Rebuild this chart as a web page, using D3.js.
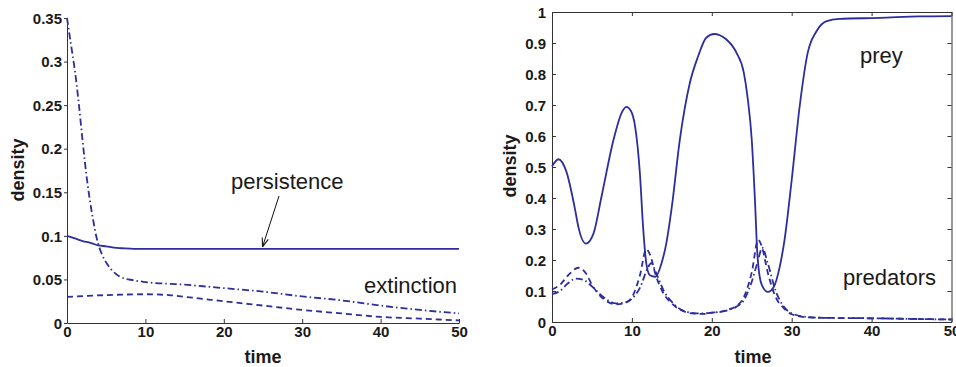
<!DOCTYPE html>
<html>
<head>
<meta charset="utf-8">
<script src="https://cdn.jsdelivr.net/npm/d3@7"></script>
<style>
  body { margin: 0; background: #fff; }
  svg { display: block; font-family: "Liberation Sans", Arial, Helvetica, sans-serif; }
  .tick text { font-weight: bold; font-size: 15px; fill: #1a1a1a; }
  .axlabel { font-weight: bold; font-size: 18px; fill: #1a1a1a; }
  .note { font-size: 22px; fill: #1a1a1a; }
</style>
</head>
<body>
<svg id="chart" width="956" height="367"></svg>
<script>
// left panel: persistence vs extinction
var leftTicksX = [0, 10, 20, 30, 40, 50];
var leftTicksY = [0, 0.05, 0.1, 0.15, 0.2, 0.25, 0.3, 0.35];

var persistT = [0, 1, 2, 3, 4, 5, 6, 7, 8.5, 10, 20, 30, 40, 50];
var persistY = [0.1, 0.097, 0.094, 0.092, 0.089, 0.088, 0.0865, 0.0858, 0.085, 0.085, 0.085, 0.085, 0.085, 0.085];

var extDashDotT = [0, 0.5, 1.0, 1.5, 2.0, 2.5, 2.8, 3.3, 3.8, 4.4, 5.1, 6, 6.8, 8.5, 10, 15, 20, 25, 30, 35, 40, 45, 50];
var extDashDotY = [0.35, 0.32, 0.29, 0.252, 0.208, 0.168, 0.148, 0.12, 0.097, 0.08, 0.068, 0.058, 0.053, 0.049, 0.047, 0.044, 0.04, 0.036, 0.0305, 0.026, 0.02, 0.015, 0.011];

var extDashT = [0, 5, 10, 13, 16, 20, 25, 30, 35, 40, 45, 50];
var extDashY = [0.03, 0.032, 0.033, 0.032, 0.029, 0.025, 0.02, 0.015, 0.011, 0.007, 0.005, 0.003];

// right panel: prey and predators
var rightTicksX = [0, 10, 20, 30, 40, 50];
var rightTicksY = [0, 0.1, 0.2, 0.3, 0.4, 0.5, 0.6, 0.7, 0.8, 0.9, 1];

var preyT = [0, 0.8, 1.8, 2.9, 3.3, 4.25, 5.2, 6.2, 7.7, 8.7, 9.3, 9.9, 10.4, 11, 11.4, 11.8, 12.25, 12.95, 13.7, 14.3, 15, 16, 17.25, 18.3, 19.3, 20.3, 21, 21.8, 23.1, 24, 24.5, 25, 25.4, 25.7, 26.2, 27, 27.75, 28.5, 29.1, 30, 31, 32, 33.1, 34.3, 36, 41, 46, 50];
var preyY = [0.502, 0.525, 0.485, 0.361, 0.307, 0.253, 0.286, 0.405, 0.588, 0.674, 0.694, 0.68, 0.631, 0.48, 0.307, 0.189, 0.151, 0.146, 0.189, 0.253, 0.372, 0.588, 0.771, 0.858, 0.917, 0.929, 0.925, 0.912, 0.868, 0.805, 0.72, 0.588, 0.394, 0.221, 0.124, 0.097, 0.113, 0.178, 0.264, 0.458, 0.696, 0.868, 0.938, 0.97, 0.978, 0.981, 0.986, 0.987];

var predDashT = [0, 1, 2, 3.3, 4.3, 5, 6, 7, 8, 9, 10, 11, 11.8, 12.3, 13, 14, 15, 16, 17, 18, 19, 20, 21, 22, 23, 24, 25, 25.8, 26.3, 27, 28, 29, 30, 32, 35, 40, 45, 50];
var predDashY = [0.105, 0.12, 0.15, 0.175, 0.155, 0.12, 0.085, 0.065, 0.057, 0.06, 0.08, 0.15, 0.235, 0.215, 0.15, 0.09, 0.06, 0.04, 0.03, 0.027, 0.026, 0.03, 0.032, 0.04, 0.05, 0.08, 0.16, 0.265, 0.24, 0.16, 0.08, 0.045, 0.025, 0.015, 0.013, 0.012, 0.01, 0.008];

var predDashDotT = [0, 1, 2, 3, 4, 5, 6, 7, 8, 9, 10, 11, 12, 12.4, 13, 14, 15, 16, 17, 18, 19, 20, 21, 22, 23, 24, 25, 25.8, 26.3, 27, 28, 29, 30, 32, 35, 40, 45, 50];
var predDashDotY = [0.09, 0.1, 0.125, 0.14, 0.135, 0.115, 0.09, 0.07, 0.06, 0.062, 0.075, 0.11, 0.175, 0.19, 0.16, 0.1, 0.065, 0.042, 0.032, 0.028, 0.028, 0.03, 0.033, 0.038, 0.048, 0.07, 0.13, 0.2, 0.24, 0.19, 0.1, 0.05, 0.028, 0.016, 0.013, 0.012, 0.01, 0.008];

var lineColor = "#2d2d9c";
var svg = d3.select("#chart");

function pairs(t, y) {
    return t.map(function(d, i) { return [d, y[i]]; });
}

function drawLine(g, x, y, t, v, dash) {
    var line = d3.line()
        .x(function(d) { return x(d[0]); })
        .y(function(d) { return y(d[1]); })
        .curve(d3.curveMonotoneX);
    g.append("path")
        .datum(pairs(t, v))
        .attr("d", line)
        .attr("fill", "none")
        .attr("stroke", lineColor)
        .attr("stroke-width", 1.8)
        .attr("stroke-dasharray", dash);
}

function styleAxis(a) {
    a.select(".domain").attr("stroke", "#333");
    a.selectAll(".tick line").attr("stroke", "#333");
}

// ---- left panel
var x1 = d3.scaleLinear().domain([0, 50]).range([67, 459]);
var y1 = d3.scaleLinear().domain([0, 0.35]).range([323, 18]);
var left = svg.append("g");

left.append("g")
    .attr("transform", "translate(0,323)")
    .call(d3.axisBottom(x1).tickValues(leftTicksX).tickSizeInner(-4).tickSizeOuter(0).tickPadding(9).tickFormat(d3.format("d")))
    .call(styleAxis);
left.append("g")
    .attr("transform", "translate(67,0)")
    .call(d3.axisLeft(y1).tickValues(leftTicksY).tickSizeInner(3).tickSizeOuter(0).tickPadding(2).tickFormat(function(d) { return d === 0 ? "0" : String(+d.toFixed(2)); }))
    .call(styleAxis);
left.selectAll(".tick text").attr("dy", "0.35em");

drawLine(left, x1, y1, extDashT, extDashY, "6,4");
drawLine(left, x1, y1, extDashDotT, extDashDotY, "7,3,1.5,3");
drawLine(left, x1, y1, persistT, persistY, null);

left.append("text").attr("class", "axlabel").attr("x", 263).attr("y", 363).attr("text-anchor", "middle").text("time");
left.append("text").attr("class", "axlabel").attr("transform", "translate(24,170) rotate(-90)").attr("text-anchor", "middle").text("density");
left.append("text").attr("class", "note").attr("x", 231).attr("y", 189).text("persistence");
left.append("text").attr("class", "note").attr("x", 457).attr("y", 293).attr("text-anchor", "end").text("extinction");

// arrow from label to the persistence curve
svg.append("defs").append("marker")
    .attr("id", "arrow")
    .attr("viewBox", "0 0 10 10")
    .attr("refX", 10).attr("refY", 5)
    .attr("markerWidth", 9).attr("markerHeight", 9)
    .attr("orient", "auto")
    .append("path")
    .attr("d", "M0,1.5 L10,5 L0,8.5")
    .attr("fill", "none")
    .attr("stroke", "#111")
    .attr("stroke-width", 1.2);
left.append("line")
    .attr("x1", 279).attr("y1", 196)
    .attr("x2", x1(25) - 0.5).attr("y2", y1(0.085) - 2)
    .attr("stroke", "#111")
    .attr("stroke-width", 1)
    .attr("marker-end", "url(#arrow)");

// ---- right panel
var x2 = d3.scaleLinear().domain([0, 50]).range([552, 951.5]);
var y2 = d3.scaleLinear().domain([0, 1]).range([322, 12]);
var right = svg.append("g");

right.append("g")
    .attr("transform", "translate(0,322)")
    .call(d3.axisBottom(x2).tickValues(rightTicksX).tickSizeInner(-4).tickSizeOuter(0).tickPadding(9).tickFormat(d3.format("d")))
    .call(styleAxis);
right.append("g")
    .attr("transform", "translate(552,0)")
    .call(d3.axisLeft(y2).tickValues(rightTicksY).tickSizeInner(-4).tickSizeOuter(0).tickPadding(6).tickFormat(function(d) { return d === 0 || d === 1 ? String(d) : String(+d.toFixed(1)); }))
    .call(styleAxis);
right.append("g")
    .attr("transform", "translate(0,12)")
    .call(d3.axisTop(x2).tickValues(rightTicksX).tickSizeInner(-4).tickSizeOuter(0).tickFormat(""))
    .call(styleAxis);
right.append("g")
    .attr("transform", "translate(951.5,0)")
    .call(d3.axisRight(y2).tickValues(rightTicksY).tickSizeInner(-4).tickSizeOuter(0).tickFormat(""))
    .call(styleAxis);
right.selectAll(".tick text").attr("dy", "0.35em");

drawLine(right, x2, y2, predDashDotT, predDashDotY, "7,3,1.5,3");
drawLine(right, x2, y2, predDashT, predDashY, "6,4");
drawLine(right, x2, y2, preyT, preyY, null);

right.append("text").attr("class", "axlabel").attr("x", 753).attr("y", 363).attr("text-anchor", "middle").text("time");
right.append("text").attr("class", "axlabel").attr("transform", "translate(516,166) rotate(-90)").attr("text-anchor", "middle").text("density");
right.append("text").attr("class", "note").attr("x", 860).attr("y", 63).text("prey");
right.append("text").attr("class", "note").attr("x", 936).attr("y", 285).attr("text-anchor", "end").text("predators");
</script>
</body>
</html>
